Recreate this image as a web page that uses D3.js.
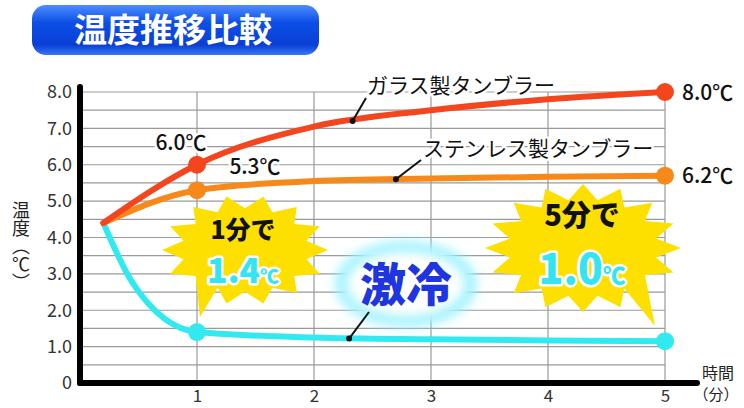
<!DOCTYPE html>
<html>
<head>
<meta charset="utf-8">
<script src="https://cdn.jsdelivr.net/npm/d3@7"></script>
<style>
  body { margin: 0; background: #fff; }
  svg { display: block; font-family: "Noto Sans CJK JP", "Noto Sans", sans-serif; }
</style>
</head>
<body>
<div class="chart"></div>
<script>
// data
const glass = [[0.2, 4.4], [1, 6.0], [2, 7.05], [3, 7.5], [4, 7.8], [5, 8.0]];
const steel = [[0.2, 4.4], [1, 5.3], [2, 5.55], [3, 5.62], [4, 5.67], [5, 5.7]];
const cold  = [[0.2, 4.4], [0.45, 2.75], [1, 1.4], [2, 1.25], [3, 1.2], [4, 1.17], [5, 1.15]];
const yTicks = [0, 1, 2, 3, 4, 5, 6, 7, 8];
const xTicks = [1, 2, 3, 4, 5];
const endLabels = ['8.0℃', '6.2℃'];
const midLabels = ['6.0℃', '5.3℃'];

const W = 744, H = 408;
const svg = d3.select('.chart').append('svg').attr('width', W).attr('height', H);
const defs = svg.append('defs');

const x = d3.scaleLinear().domain([0, 5]).range([80, 665]);
const y = d3.scaleLinear().domain([0, 8]).range([383, 92]);

// title
const grad = defs.append('linearGradient').attr('id', 'tg').attr('x1', 0).attr('x2', 0).attr('y1', 0).attr('y2', 1);
grad.append('stop').attr('offset', '0%').attr('stop-color', '#4f8dff');
grad.append('stop').attr('offset', '35%').attr('stop-color', '#0c4fe6');
grad.append('stop').attr('offset', '80%').attr('stop-color', '#0a3fd6');
grad.append('stop').attr('offset', '100%').attr('stop-color', '#3a78f5');
svg.append('rect').attr('x', 32).attr('y', 5).attr('width', 287).attr('height', 50)
  .attr('rx', 14).attr('fill', 'url(#tg)');
svg.append('text').attr('x', 173).attr('y', 30).attr('dy', '0.35em')
  .attr('text-anchor', 'middle').attr('fill', '#fff').attr('font-size', 33).attr('font-weight', 700)
  .text('温度推移比較');

// grid
const grid = svg.append('g').attr('stroke', '#9a9a9a').attr('stroke-width', 1.2);
grid.selectAll('.h').data(d3.range(0.5, 8.01, 0.5)).enter().append('line')
  .attr('x1', x(0)).attr('x2', x(5)).attr('y1', d => y(d)).attr('y2', d => y(d));
grid.selectAll('.v').data(xTicks).enter().append('line')
  .attr('x1', d => x(d)).attr('x2', d => x(d)).attr('y1', y(8)).attr('y2', y(0));

// axes
const yAxis = svg.append('g').attr('transform', `translate(${x(0)},0)`)
  .call(d3.axisLeft(y).tickValues(yTicks).tickSize(0).tickPadding(8)
    .tickFormat(d => d === 0 ? '0' : d.toFixed(1)));
yAxis.select('.domain').remove();
yAxis.selectAll('text').attr('font-size', 18).attr('fill', '#333').attr('font-family', '"Noto Sans CJK JP"');

const xAxis = svg.append('g').attr('transform', `translate(0,${y(0)})`)
  .call(d3.axisBottom(x).tickValues(xTicks).tickSize(0).tickPadding(7).tickFormat(d3.format('d')));
xAxis.select('.domain').remove();
xAxis.selectAll('text').attr('font-size', 17).attr('fill', '#333').attr('font-family', '"Noto Sans CJK JP"');

svg.append('line').attr('x1', x(0)).attr('x2', x(0)).attr('y1', 87).attr('y2', y(0))
  .attr('stroke', '#000').attr('stroke-width', 6).attr('stroke-linecap', 'round');
svg.append('line').attr('x1', x(0)).attr('x2', 697).attr('y1', y(0)).attr('y2', y(0))
  .attr('stroke', '#000').attr('stroke-width', 6).attr('stroke-linecap', 'round');

// axis titles
svg.append('text').attr('x', 21).attr('y', 201)
  .style('writing-mode', 'vertical-rl').style('text-orientation', 'mixed')
  .attr('font-size', 18).attr('fill', '#222').text('温度（℃）');
svg.append('text').attr('x', 718).attr('y', 373).attr('dy', '0.35em').attr('text-anchor', 'middle')
  .attr('font-size', 16).attr('fill', '#222').text('時間');
svg.append('text').attr('x', 716).attr('y', 395).attr('dy', '0.35em').attr('text-anchor', 'middle')
  .attr('font-size', 15).attr('fill', '#222').text('（分）');

// bursts
function burst(cx, cy, rx, ry, n, tail) {
  const pts = [];
  for (let i = 0; i < n * 2; i++) {
    const a = i / (n * 2) * Math.PI * 2;
    const k = i % 2 ? 0.76 : 1;
    pts.push([cx + Math.cos(a) * rx * k, cy + Math.sin(a) * ry * k]);
  }
  let best = 0, bd = Infinity;
  pts.forEach((p, i) => { if (i % 2 === 0) { const d = Math.hypot(p[0] - tail[0], p[1] - tail[1]); if (d < bd) { bd = d; best = i; } } });
  pts[best] = tail;
  return d3.line()(pts) + 'Z';
}
svg.append('path').attr('d', burst(245, 250, 83, 55, 14, [200, 317])).attr('fill', '#fde000');
svg.append('path').attr('d', burst(583, 248, 98, 64, 16, [655, 326])).attr('fill', '#fde000');

// glow behind 激冷
const blur = defs.append('filter').attr('id', 'glow').attr('x', '-30%').attr('y', '-30%').attr('width', '160%').attr('height', '160%');
blur.append('feGaussianBlur').attr('stdDeviation', 6);
svg.append('ellipse').attr('cx', 406).attr('cy', 284).attr('rx', 70).attr('ry', 42)
  .attr('fill', '#8ff0ff').attr('filter', 'url(#glow)');
svg.append('ellipse').attr('cx', 406).attr('cy', 284).attr('rx', 60).attr('ry', 33)
  .attr('fill', '#fff').attr('filter', 'url(#glow)');

// lines
const line = d3.line().curve(d3.curveMonotoneX).x(d => x(d[0])).y(d => y(d[1]));
const series = [
  {data: cold, color: '#33e9f0'},
  {data: steel, color: '#f7891a'},
  {data: glass, color: '#f4461e'}
];
series.forEach(s => {
  svg.append('path').datum(s.data).attr('d', line).attr('fill', 'none')
    .attr('stroke', s.color).attr('stroke-width', 6).attr('stroke-linecap', 'round');
  const pts = s.data.filter(d => d[0] === 1 || d[0] === 5);
  svg.append('g').selectAll('circle').data(pts).enter().append('circle')
    .attr('cx', d => x(d[0])).attr('cy', d => y(d[1])).attr('r', 9).attr('fill', s.color);
});

// leaders and series labels
function leader(x1, y1, x2, y2) {
  svg.append('line').attr('x1', x1).attr('y1', y1).attr('x2', x2).attr('y2', y2)
    .attr('stroke', '#111').attr('stroke-width', 2);
  svg.append('circle').attr('cx', x1).attr('cy', y1).attr('r', 3).attr('fill', '#111');
}
leader(x(2.33), y(7.2), 366, 98);
leader(x(2.7), y(5.6), 421, 160);
leader(x(2.3), y(1.22), 369, 312);

const halo = t => t.attr('stroke', '#fff').attr('stroke-width', 5).attr('paint-order', 'stroke').attr('stroke-linejoin', 'round');
svg.append('text').attr('x', 367).attr('y', 86).attr('dy', '0.35em').attr('font-size', 21).attr('fill', '#111')
  .text('ガラス製タンブラー').call(halo);
svg.append('text').attr('x', 423).attr('y', 149).attr('dy', '0.35em').attr('font-size', 21).attr('fill', '#111')
  .text('ステンレス製タンブラー').call(halo);

// value labels
const vl = (t, xx, yy, anchor) => svg.append('text').attr('x', xx).attr('y', yy).attr('dy', '0.36em')
  .attr('text-anchor', anchor).attr('font-size', 21).attr('font-weight', 500).attr('fill', '#111').text(t);
vl(endLabels[0], 682, y(8), 'start');
vl(endLabels[1], 682, y(5.7), 'start');
vl(midLabels[0], 181, 142, 'middle').call(halo);
vl(midLabels[1], 255, 166, 'middle').call(halo);

// burst texts
function burstText(cx, cy1, cy2, head, num, s1, s2) {
  svg.append('text').attr('x', cx).attr('y', cy1).attr('dy', '0.35em').attr('text-anchor', 'middle')
    .attr('font-size', s1).attr('font-weight', 900).attr('fill', '#111').text(head);
  const t = svg.append('text').attr('x', cx).attr('y', cy2).attr('dy', '0.35em').attr('text-anchor', 'middle')
    .attr('font-weight', 900).attr('fill', '#35e4f2')
    .attr('stroke', '#fff').attr('stroke-width', 5).attr('paint-order', 'stroke').attr('stroke-linejoin', 'round');
  t.append('tspan').attr('font-size', s2).text(num);
  t.append('tspan').attr('font-size', s2 * 0.55).text('℃');
}
burstText(243, 230, 277, '1分で', '1.4', 25, 34);
burstText(582, 216, 278, '5分で', '1.0', 29, 41);

svg.append('text').attr('x', 406).attr('y', 284).attr('dy', '0.36em').attr('text-anchor', 'middle')
  .attr('font-size', 46).attr('font-weight', 900).attr('fill', '#1f35e0').text('激冷');
</script>
</body>
</html>
